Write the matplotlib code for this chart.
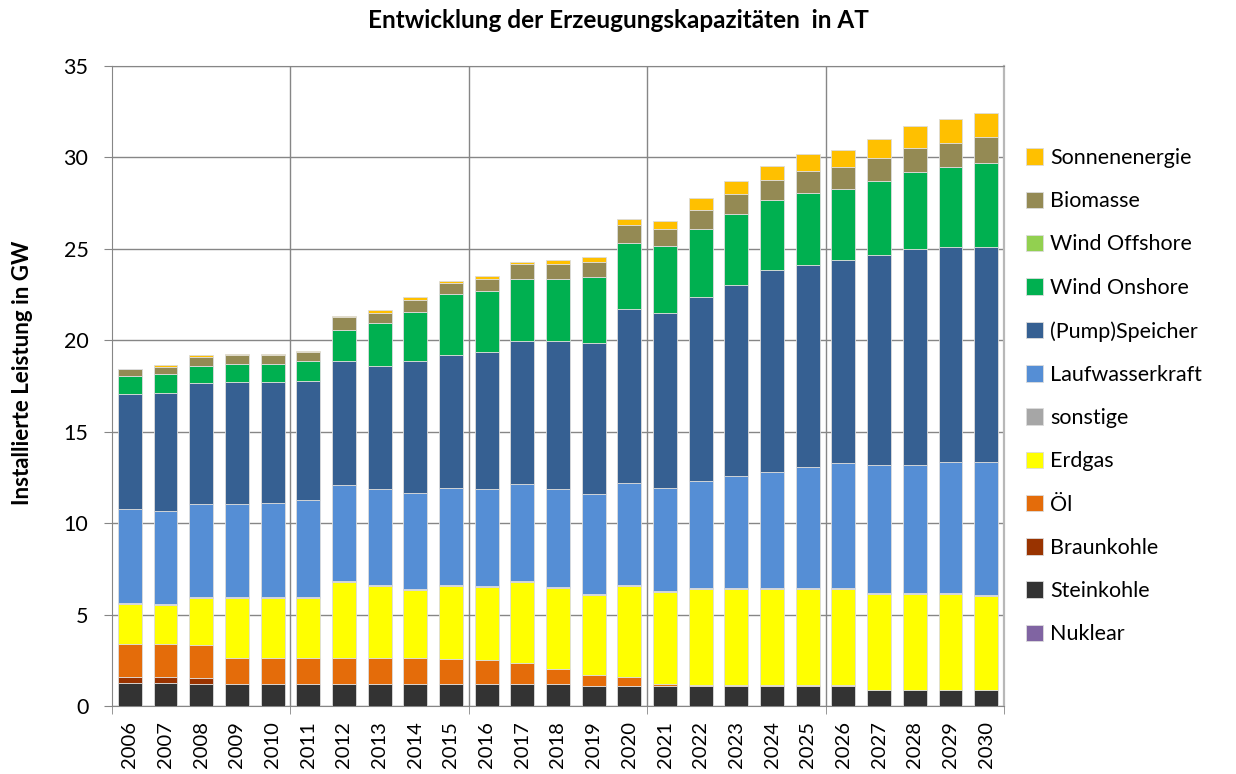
import matplotlib
matplotlib.use("Agg")
import matplotlib.pyplot as plt
import numpy as np

plt.rcParams['font.family'] = ['Lato', 'DejaVu Sans']

# years on the x axis
years = [str(y) for y in range(2006, 2031)]

# installed capacity per technology in GW
nuklear = [0.0] * 25
steinkohle = [1.25, 1.25, 1.18, 1.18, 1.18, 1.18, 1.18, 1.18, 1.18, 1.18,
              1.18, 1.18, 1.18, 1.09, 1.09, 1.10, 1.10, 1.10, 1.10, 1.10,
              1.10, 0.85, 0.85, 0.85, 0.85]
braunkohle = [0.33, 0.33, 0.35] + [0.0] * 22
oel = [1.82, 1.82, 1.82, 1.46, 1.46, 1.46, 1.46, 1.46, 1.46, 1.38,
       1.31, 1.18, 0.84, 0.58, 0.49, 0.12, 0.05, 0.05, 0.05, 0.05,
       0.05, 0.0, 0.0, 0.0, 0.0]
erdgas = [2.16, 2.12, 2.54, 3.25, 3.25, 3.25, 4.14, 3.94, 3.72, 4.00,
          4.03, 4.44, 4.41, 4.42, 4.98, 5.03, 5.25, 5.25, 5.25, 5.25,
          5.25, 5.29, 5.29, 5.25, 5.15]
sonstige = [0.06] * 25
laufwasser = [5.13, 5.09, 5.09, 5.09, 5.14, 5.29, 5.25, 5.23, 5.23, 5.31,
              5.30, 5.29, 5.39, 5.45, 5.58, 5.63, 5.86, 6.14, 6.35, 6.63,
              6.82, 6.96, 7.00, 7.21, 7.31]
speicher = [6.29, 6.42, 6.60, 6.69, 6.64, 6.56, 6.75, 6.75, 7.19, 7.27,
            7.50, 7.82, 8.09, 8.26, 9.49, 9.53, 10.07, 10.43, 11.05, 11.05,
            11.09, 11.49, 11.79, 11.75, 11.75]
wind_on = [0.99, 1.04, 0.98, 0.98, 0.98, 1.04, 1.72, 2.33, 2.71, 3.33,
           3.29, 3.40, 3.40, 3.59, 3.61, 3.67, 3.67, 3.86, 3.79, 3.94,
           3.90, 4.05, 4.20, 4.35, 4.56]
wind_off = [0.0] * 25
biomasse = [0.39, 0.42, 0.47, 0.49, 0.49, 0.51, 0.70, 0.54, 0.63, 0.62,
            0.70, 0.78, 0.78, 0.82, 0.99, 0.96, 1.04, 1.11, 1.11, 1.17,
            1.20, 1.26, 1.34, 1.34, 1.41]
sonne = [0.03, 0.09, 0.09, 0.07, 0.07, 0.05, 0.07, 0.15, 0.17, 0.07,
         0.13, 0.15, 0.22, 0.29, 0.36, 0.42, 0.68, 0.72, 0.77, 0.92,
         0.91, 1.06, 1.20, 1.28, 1.36]

series = [
    ("Nuklear", nuklear, "#8064A2"),
    ("Steinkohle", steinkohle, "#333333"),
    ("Braunkohle", braunkohle, "#993300"),
    ("Öl", oel, "#E46C0A"),
    ("Erdgas", erdgas, "#FFFF00"),
    ("sonstige", sonstige, "#A6A6A6"),
    ("Laufwasserkraft", laufwasser, "#558ED5"),
    ("(Pump)Speicher", speicher, "#366092"),
    ("Wind Onshore", wind_on, "#00B050"),
    ("Wind Offshore", wind_off, "#92D050"),
    ("Biomasse", biomasse, "#948A54"),
    ("Sonnenenergie", sonne, "#FFC000"),
]

fig = plt.figure(figsize=(12.36, 7.74), dpi=100)
ax = fig.add_axes([112 / 1236, 1 - 706 / 774, (1004 - 112) / 1236, (706 - 66) / 774])

x = np.arange(len(years))
bottom = np.zeros(len(years))
handles = []
for name, vals, col in series:
    vals = np.array(vals)
    b = ax.bar(x, vals, bottom=bottom, width=0.67, color=col,
               edgecolor="#dcdcdc", linewidth=0.6, label=name, zorder=3)
    handles.append(b)
    bottom += vals

grid_col = "#868686"
ax.set_ylim(0, 35)
ax.set_xlim(-0.5, len(years) - 0.5)
ax.set_yticks(range(0, 36, 5))
ax.yaxis.grid(True, color=grid_col, linewidth=1.0, zorder=0)
for gx in [4.5, 9.5, 14.5, 19.5]:
    ax.axvline(gx, color=grid_col, linewidth=1.0, zorder=0)

ax.set_xticks(x)
ax.set_xticklabels(years, rotation=90, fontsize=14.5)
ax.tick_params(axis="x", length=0, pad=11)
ax.set_xticks([-0.5, 4.5, 9.5, 14.5, 19.5, 24.5], minor=True)
ax.tick_params(axis="x", which="minor", length=6, color=grid_col)
ax.tick_params(axis="y", labelsize=15.5, length=6, color=grid_col, pad=11)

for side in ["left", "bottom", "top"]:
    ax.spines[side].set_color(grid_col)
ax.spines["right"].set_color("#b8b8b8")
ax.spines["right"].set_linewidth(1.6)

fig.text(23 / 1236, 1 - 373 / 774, "Installierte Leistung in GW", rotation=90,
         ha="center", va="center", fontsize=16, fontweight="bold")
fig.text(618 / 1236, 1 - 21 / 774, "Entwicklung der Erzeugungskapazitäten  in AT",
         ha="center", va="center", fontsize=17.5, fontweight="bold")

fig.legend(handles[::-1], [s[0] for s in series][::-1], loc="upper left",
           bbox_to_anchor=(1026 / 1236, 1 - 148 / 774), frameon=False,
           fontsize=15.5, handlelength=0.8, handleheight=0.8,
           handletextpad=0.33, labelspacing=1.08, borderpad=0, borderaxespad=0)

fig.savefig("out.png", dpi=100)
